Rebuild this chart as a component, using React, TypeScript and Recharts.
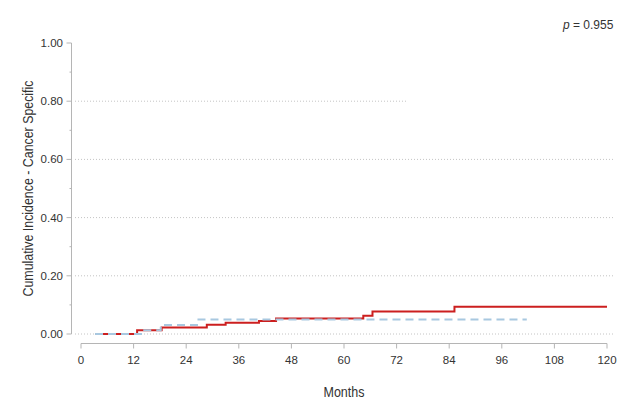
import React from "react";
import { LineChart, Line, XAxis, YAxis, ReferenceLine, Label } from "recharts";

// Red group (solid) step points: months and cumulative incidence
const redMonths = [3.2, 12.8, 18.4, 28.7, 33.0, 40.6, 44.5, 64.4, 66.5, 85.2, 120];
const redValues = [0, 0.013, 0.022, 0.032, 0.039, 0.045, 0.053, 0.063, 0.077, 0.094, 0.094];

// Blue group (dashed) step points
const blueMonths = [3.2, 14.2, 18.2, 26.8, 101.7];
const blueValues = [0, 0.013, 0.031, 0.05, 0.05];

const xTicks = [0, 12, 24, 36, 48, 60, 72, 84, 96, 108, 120];
const yTicks = [0, 0.1, 0.2, 0.3, 0.4, 0.5, 0.6, 0.7, 0.8, 0.9, 1.0];
const gridValues = [0, 0.2, 0.4, 0.6, 0.8];

const redData = redMonths.map((t, i) => ({ t, v: redValues[i] }));
const blueData = blueMonths.map((t, i) => ({ t, v: blueValues[i] }));

const FONT = '"Liberation Sans", Arial, sans-serif';
const TEXT = "#333333";
const AXIS = "#b5b5b5";
const GRID = "#c4c4c4";

const XTick = (props: any) => {
  const { x, y, payload } = props;
  return (
    <g>
      <line x1={x} x2={x} y1={y + 9.5} y2={y + 14.5} stroke={AXIS} strokeWidth={1} />
      <text x={x} y={y + 30} textAnchor="middle" fill={TEXT} fontSize={11.5} fontFamily={FONT}>
        {payload.value}
      </text>
    </g>
  );
};

const YTick = (props: any) => {
  const { x, y, payload } = props;
  const v = payload.value as number;
  const major = Math.round(v * 10) % 2 === 0;
  if (!major) {
    return <line x1={x - 11.5} x2={x - 9.5} y1={y} y2={y} stroke={AXIS} strokeWidth={1} />;
  }
  return (
    <g>
      <line x1={x - 14.5} x2={x - 9.5} y1={y} y2={y} stroke={AXIS} strokeWidth={1} />
      <text x={x - 18} y={y + 4} textAnchor="end" fill={TEXT} fontSize={11.5} fontFamily={FONT}>
        {v.toFixed(2)}
      </text>
    </g>
  );
};

export default function App() {
  return (
    <div
      style={{
        position: "absolute",
        left: 0,
        top: 0,
        width: 643,
        height: 413,
        background: "#ffffff",
        fontFamily: FONT,
      }}
    >
      <LineChart width={643} height={413} margin={{ top: 43, right: 36, bottom: 49, left: 21 }}>
        <XAxis
          type="number"
          dataKey="t"
          domain={[0, 120]}
          ticks={xTicks}
          interval={0}
          axisLine={false}
          tickLine={false}
          tickSize={0}
          tickMargin={0}
          height={30}
          tick={<XTick />}
        >
          <Label
            content={(p: any) => {
              const vb = p.viewBox;
              return (
                <text
                  x={vb.x + vb.width / 2}
                  y={vb.y + 63}
                  textAnchor="middle"
                  fill={TEXT}
                  fontSize={14.5}
                  fontFamily={FONT}
                  textLength={41}
                  lengthAdjust="spacingAndGlyphs"
                >
                  Months
                </text>
              );
            }}
          />
        </XAxis>
        <YAxis
          type="number"
          domain={[0, 1]}
          ticks={yTicks}
          interval={0}
          axisLine={false}
          tickLine={false}
          tickSize={0}
          tickMargin={0}
          width={60}
          tick={<YTick />}
        >
          <Label
            content={(p: any) => {
              const vb = p.viewBox;
              const cx = vb.x + 12;
              const cy = vb.y + vb.height / 2;
              return (
                <text
                  x={cx}
                  y={cy}
                  transform={`rotate(-90, ${cx}, ${cy})`}
                  textAnchor="middle"
                  fill={TEXT}
                  fontSize={14.5}
                  fontFamily={FONT}
                  textLength={216}
                  lengthAdjust="spacingAndGlyphs"
                >
                  Cumulative Incidence - Cancer Specific
                </text>
              );
            }}
          />
        </YAxis>

        {gridValues.map((g) => (
          <ReferenceLine
            key={`grid-${g}`}
            y={g}
            ifOverflow="visible"
            shape={(p: any) => (
              <line
                x1={p.x1 - 6}
                x2={g === 0.8 ? p.x1 + 326 : p.x2 + 7}
                y1={p.y1}
                y2={p.y2}
                stroke={GRID}
                strokeWidth={1}
                strokeDasharray="1 2"
              />
            )}
          />
        ))}

        <ReferenceLine
          y={0}
          ifOverflow="visible"
          shape={(p: any) => (
            <line x1={p.x1} x2={p.x2} y1={p.y1 + 9.5} y2={p.y2 + 9.5} stroke={AXIS} strokeWidth={1} />
          )}
        />
        <ReferenceLine
          x={0}
          ifOverflow="visible"
          shape={(p: any) => (
            <line
              x1={p.x1 - 9.5}
              x2={p.x2 - 9.5}
              y1={Math.min(p.y1, p.y2)}
              y2={Math.max(p.y1, p.y2)}
              stroke={AXIS}
              strokeWidth={1}
            />
          )}
        />

        <Line
          data={redData}
          dataKey="v"
          type="stepAfter"
          stroke="#cc1f1f"
          strokeWidth={2}
          dot={false}
          activeDot={false}
          isAnimationActive={false}
        />
        <Line
          data={blueData}
          dataKey="v"
          type="stepAfter"
          stroke="#a8c8e0"
          strokeWidth={2}
          strokeDasharray="8 5"
          dot={false}
          activeDot={false}
          isAnimationActive={false}
        />
      </LineChart>
      <div
        style={{
          position: "absolute",
          left: 563,
          top: 17,
          fontSize: 12,
          color: TEXT,
          fontFamily: FONT,
          whiteSpace: "nowrap",
          lineHeight: "16px",
        }}
      >
        <i>p</i> = 0.955
      </div>
    </div>
  );
}
